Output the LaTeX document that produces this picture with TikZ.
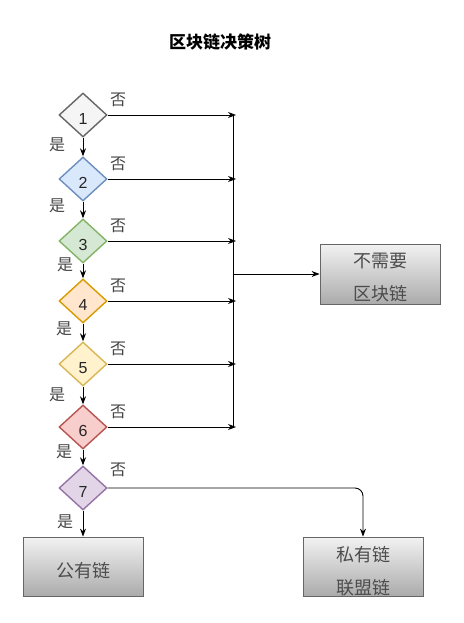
\documentclass[tikz,border=0pt]{standalone}
\usepackage{fontspec}
\setsansfont{Liberation Sans}
\newfontfamily\cjk{Noto Sans CJK SC}
\usetikzlibrary{shapes.geometric,arrows.meta}
\definecolor{g1f}{HTML}{F5F5F5}\definecolor{g1d}{HTML}{666666}
\definecolor{b2f}{HTML}{DAE8FC}\definecolor{b2d}{HTML}{6C8EBF}
\definecolor{g3f}{HTML}{D5E8D4}\definecolor{g3d}{HTML}{82B366}
\definecolor{o4f}{HTML}{FFE6CC}\definecolor{o4d}{HTML}{D79B00}
\definecolor{y5f}{HTML}{FFF2CC}\definecolor{y5d}{HTML}{D6B656}
\definecolor{r6f}{HTML}{F8CECC}\definecolor{r6d}{HTML}{B85450}
\definecolor{p7f}{HTML}{E1D5E7}\definecolor{p7d}{HTML}{9673A6}
\definecolor{boxtop}{HTML}{F2F2F2}\definecolor{boxbot}{HTML}{ABABAB}
\definecolor{lbl}{HTML}{444444}
\begin{document}
\begin{tikzpicture}[x=1pt,y=-1pt,
  dec/.style={diamond,draw=#1d,fill=#1f,line width=1.4pt,minimum width=48pt,minimum height=44pt,inner sep=0pt,
    text height=20pt,text depth=0.5pt,
    font=\sffamily\fontsize{16}{16}\selectfont,text=black!85},
  resbox/.style={draw=black!60,line width=0.8pt,top color=boxtop,bottom color=boxbot,minimum width=120pt,minimum height=60pt,inner sep=0pt},
  boxtxt/.style={font=\cjk\fontsize{18}{33}\selectfont,text=black!70,align=center,inner sep=0pt},
  lab/.style={font=\cjk\fontsize{16}{16}\selectfont,text=lbl,inner sep=0pt},
  arr/.style={-{Stealth[length=8pt,width=6pt]},line width=0.9pt,black},
  ln/.style={line width=0.9pt,black}]
\useasboundingbox (0,0) rectangle (463,623);
\node[font=\cjk\bfseries\fontsize{17}{17}\selectfont] (title) at (220,42) {区块链决策树};
\node[dec=g1] (d1) at (83,115) {1};
\node[dec=b2] (d2) at (83,179) {2};
\node[dec=g3] (d3) at (83,241) {3};
\node[dec=o4] (d4) at (83,301) {4};
\node[dec=y5] (d5) at (83,364) {5};
\node[dec=r6] (d6) at (83,427) {6};
\node[dec=p7] (d7) at (83,488) {7};
\coordinate (r1) at (236,115);
\coordinate (r2) at (236,179);
\coordinate (r3) at (236,241);
\coordinate (r4) at (236,301);
\coordinate (r5) at (236,364);
\coordinate (r6) at (236,427);
\coordinate (t1) at (233,115);
\coordinate (t6) at (233,427);
\coordinate (m) at (233,274);
\node[resbox] (nb) at (380,274) {};
\node[boxtxt] (nbt) at (380,278) {不需要\\区块链};
\node[resbox,minimum height=59pt] (pub) at (83,566.5) {};
\node[boxtxt] (pubt) at (83,571) {公有链};
\node[resbox,minimum height=59pt] (prv) at (363,566.5) {};
\node[boxtxt] (prvt) at (363,571) {私有链\\联盟链};
% vertical chain
\draw[arr] (d1.south) -- (d2.north);
\draw[arr] (d2.south) -- (d3.north);
\draw[arr] (d3.south) -- (d4.north);
\draw[arr] (d4.south) -- (d5.north);
\draw[arr] (d5.south) -- (d6.north);
\draw[arr] (d6.south) -- (d7.north);
\draw[arr] (d7.south) -- (pub.north);
% no branches
\draw[arr] (d1.east) -- (r1);
\draw[arr] (d2.east) -- (r2);
\draw[arr] (d3.east) -- (r3);
\draw[arr] (d4.east) -- (r4);
\draw[arr] (d5.east) -- (r5);
\draw[arr] (d6.east) -- (r6);
\draw[ln] (t1) -- (t6);
\draw[arr] (m) -- (nb.west);
\draw[arr,rounded corners=8pt] (d7.east) -| (prv.north);
% labels
\node[lab] (n1) at (118,100) {否};
\node[lab] (n2) at (118,164) {否};
\node[lab] (n3) at (118,226) {否};
\node[lab] (n4) at (118,286) {否};
\node[lab] (n5) at (118,349) {否};
\node[lab] (n6) at (118,412) {否};
\node[lab] (n7) at (118,470) {否};
\node[lab] (y1) at (57,145) {是};
\node[lab] (y2) at (57,206) {是};
\node[lab] (y3) at (65,265) {是};
\node[lab] (y4) at (64,329) {是};
\node[lab] (y5) at (57,395) {是};
\node[lab] (y6) at (64,452) {是};
\node[lab] (y7) at (65,522) {是};
\end{tikzpicture}
\end{document}
